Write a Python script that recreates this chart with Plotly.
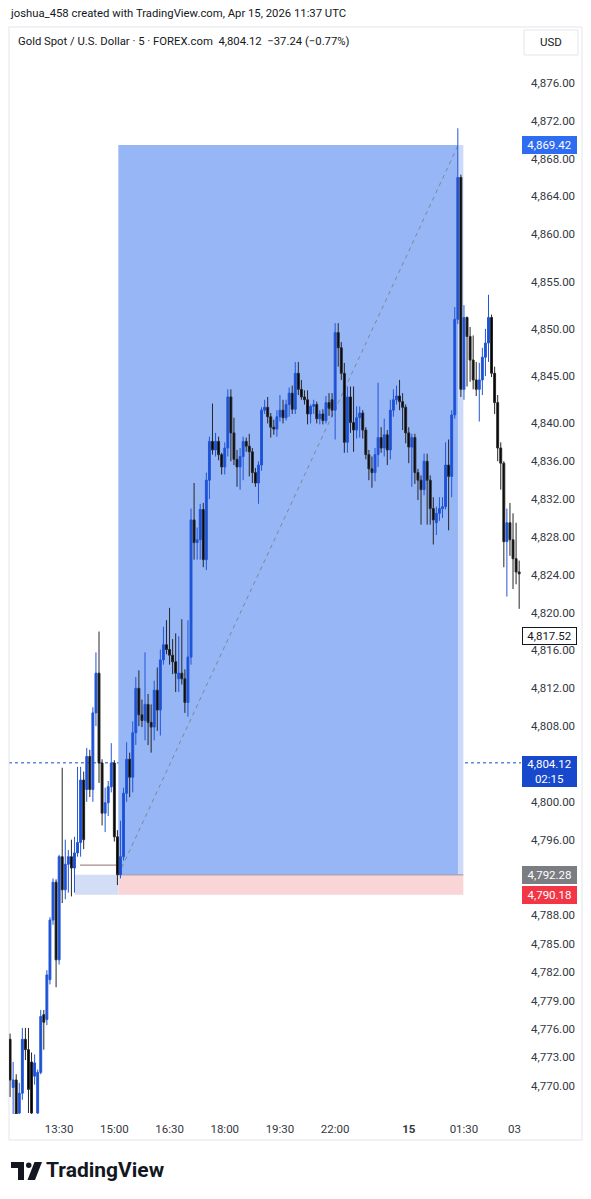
import plotly.graph_objects as go

# ---------------- data ----------------
bar_index = list(range(167))

open_ = [4774.9, 4769.8, 4770.6, 4767.1, 4769.2, 4774.9, 4773.8, 4772.5, 4771.0, 4767.1,
         4771.4, 4777.5, 4777.0, 4781.2, 4787.5, 4791.5, 4783.3, 4794.2, 4790.7, 4793.4,
         4794.2, 4793.0, 4794.6, 4795.7, 4802.3, 4801.3, 4804.8, 4801.3, 4809.4, 4813.6,
         4804.1, 4798.8, 4799.9, 4801.6, 4804.1, 4796.3, 4792.3, 4794.2, 4800.9, 4804.5,
         4802.6, 4807.3, 4812.0, 4809.2, 4808.6, 4810.3, 4808.4, 4807.9, 4811.8, 4809.7,
         4815.0, 4816.6, 4816.1, 4815.5, 4814.8, 4813.0, 4813.6, 4813.0, 4810.5, 4815.3,
         4829.8, 4827.4, 4827.7, 4830.9, 4825.6, 4834.0, 4838.1, 4837.2, 4838.1, 4836.7,
         4835.4, 4837.4, 4842.8, 4839.0, 4836.2, 4835.4, 4836.5, 4838.1, 4837.6, 4837.0,
         4834.8, 4833.7, 4835.6, 4841.4, 4841.7, 4840.7, 4839.6, 4839.4, 4840.7, 4841.4,
         4840.6, 4842.0, 4843.2, 4841.5, 4845.3, 4843.6, 4842.8, 4842.5, 4841.0, 4841.8,
         4842.0, 4840.5, 4841.0, 4840.3, 4842.2, 4842.5, 4841.4, 4849.6, 4848.0, 4845.3,
         4838.0, 4842.8, 4840.1, 4839.3, 4840.6, 4841.1, 4839.3, 4836.7, 4835.2, 4834.8,
         4836.7, 4838.5, 4837.4, 4838.8, 4837.2, 4841.4, 4842.5, 4842.9, 4842.3, 4841.7,
         4839.0, 4837.5, 4838.5, 4834.8, 4834.0, 4833.0, 4836.0, 4834.0, 4831.0, 4829.5,
         4830.5, 4831.0, 4831.2, 4835.6, 4834.4, 4840.9, 4851.0, 4866.0, 4843.6, 4851.2,
         4849.2, 4846.7, 4844.6, 4843.6, 4844.6, 4847.0, 4848.5, 4851.2, 4845.3, 4842.2,
         4837.4, 4835.8, 4827.5, 4829.5, 4827.7, 4825.7, 4824.3]

high = [4775.5, 4772.5, 4771.2, 4770.3, 4776.1, 4776.1, 4776.1, 4773.5, 4773.3, 4771.7,
        4778.0, 4778.0, 4782.2, 4787.8, 4791.9, 4791.8, 4794.4, 4803.6, 4796.0, 4794.9,
        4796.0, 4796.3, 4803.7, 4803.7, 4803.2, 4805.7, 4805.5, 4810.0, 4815.8, 4818.0,
        4804.5, 4801.5, 4802.2, 4806.2, 4804.4, 4797.0, 4798.0, 4801.5, 4806.3, 4805.2,
        4808.5, 4813.2, 4813.9, 4810.8, 4815.8, 4811.4, 4810.3, 4812.8, 4814.2, 4816.1,
        4818.5, 4819.2, 4820.5, 4817.2, 4817.8, 4817.5, 4819.3, 4814.0, 4819.2, 4831.0,
        4833.7, 4829.0, 4831.5, 4831.6, 4834.8, 4838.6, 4842.1, 4839.0, 4838.6, 4836.9,
        4838.0, 4843.6, 4843.6, 4840.6, 4837.2, 4837.4, 4838.6, 4838.5, 4838.9, 4837.4,
        4835.3, 4836.0, 4841.7, 4842.5, 4842.8, 4841.1, 4840.4, 4841.4, 4843.0, 4842.5,
        4842.5, 4843.8, 4844.0, 4846.5, 4846.5, 4844.6, 4843.5, 4843.5, 4842.0, 4842.5,
        4842.3, 4841.4, 4841.5, 4842.9, 4843.2, 4843.2, 4850.6, 4850.6, 4848.6, 4846.4,
        4843.9, 4843.9, 4843.9, 4841.8, 4841.8, 4841.4, 4839.6, 4837.2, 4836.5, 4837.4,
        4844.3, 4839.6, 4840.5, 4839.3, 4842.5, 4843.6, 4844.0, 4844.6, 4843.2, 4842.0,
        4839.6, 4838.9, 4838.9, 4835.2, 4834.5, 4836.8, 4836.8, 4834.5, 4832.2, 4831.2,
        4832.2, 4832.2, 4838.0, 4838.3, 4841.4, 4852.3, 4871.2, 4866.3, 4852.5, 4851.3,
        4850.2, 4849.3, 4846.5, 4846.4, 4848.0, 4850.0, 4853.6, 4851.5, 4846.0, 4843.0,
        4838.0, 4836.0, 4831.0, 4831.6, 4830.5, 4829.5, 4825.5]

low = [4768.8, 4766.8, 4766.6, 4766.6, 4768.5, 4772.7, 4767.1, 4766.4, 4770.1, 4766.4,
       4771.2, 4773.8, 4776.4, 4780.7, 4787.0, 4780.4, 4782.8, 4789.3, 4789.7, 4790.4,
       4790.0, 4790.4, 4794.2, 4794.2, 4795.0, 4800.0, 4800.5, 4800.0, 4808.0, 4802.0,
       4797.5, 4796.8, 4798.5, 4801.0, 4795.8, 4791.2, 4791.9, 4793.8, 4800.0, 4800.5,
       4801.0, 4806.0, 4808.0, 4807.9, 4806.5, 4806.0, 4805.2, 4806.5, 4807.5, 4807.0,
       4814.5, 4815.6, 4814.5, 4813.5, 4811.6, 4811.6, 4812.4, 4809.4, 4809.0, 4814.5,
       4825.6, 4825.6, 4825.6, 4824.8, 4824.5, 4832.0, 4836.7, 4836.5, 4836.1, 4834.6,
       4834.6, 4836.5, 4836.0, 4835.6, 4833.3, 4833.0, 4834.0, 4837.0, 4834.4, 4833.7,
       4833.3, 4831.5, 4835.0, 4841.0, 4840.0, 4838.5, 4838.8, 4838.6, 4840.2, 4840.0,
       4840.3, 4840.7, 4841.0, 4841.0, 4843.0, 4842.5, 4842.0, 4839.9, 4840.0, 4841.0,
       4840.0, 4839.9, 4839.9, 4840.0, 4840.8, 4840.7, 4838.3, 4846.0, 4844.6, 4836.9,
       4836.9, 4839.0, 4837.0, 4838.4, 4838.5, 4838.4, 4836.2, 4834.0, 4833.2, 4833.9,
       4835.4, 4836.9, 4836.5, 4835.6, 4836.2, 4840.7, 4842.0, 4841.4, 4839.3, 4837.9,
       4835.8, 4833.3, 4833.6, 4831.9, 4829.3, 4832.4, 4829.3, 4829.3, 4827.2, 4828.2,
       4829.7, 4830.0, 4830.9, 4828.7, 4832.2, 4840.5, 4850.5, 4842.8, 4842.5, 4843.9,
       4844.4, 4843.6, 4842.9, 4840.2, 4843.0, 4845.0, 4846.5, 4844.9, 4841.0, 4836.0,
       4833.0, 4824.8, 4821.7, 4826.0, 4822.5, 4823.0, 4820.4]

close = [4770.6, 4770.6, 4767.0, 4769.2, 4774.9, 4773.8, 4769.6, 4767.1, 4772.4, 4771.4,
         4777.3, 4776.7, 4781.7, 4787.5, 4791.5, 4783.3, 4794.2, 4790.7, 4793.4, 4794.2,
         4793.0, 4794.6, 4795.7, 4802.3, 4796.0, 4804.8, 4801.3, 4809.4, 4813.6, 4804.1,
         4798.8, 4799.9, 4801.6, 4804.1, 4796.3, 4792.3, 4794.2, 4800.9, 4804.5, 4802.6,
         4807.3, 4812.0, 4809.2, 4808.6, 4810.3, 4808.4, 4807.9, 4811.8, 4809.7, 4815.0,
         4816.6, 4816.1, 4815.5, 4814.8, 4813.6, 4813.6, 4813.0, 4810.5, 4815.3, 4829.8,
         4827.4, 4827.7, 4830.9, 4825.6, 4834.0, 4838.1, 4837.2, 4838.1, 4836.7, 4835.4,
         4837.4, 4842.8, 4839.0, 4836.2, 4835.4, 4836.5, 4838.1, 4837.6, 4837.0, 4834.8,
         4833.7, 4835.6, 4841.4, 4841.7, 4840.7, 4839.6, 4839.4, 4840.7, 4841.4, 4840.6,
         4842.0, 4843.2, 4841.5, 4845.3, 4843.6, 4842.8, 4842.5, 4841.0, 4841.8, 4842.0,
         4840.5, 4841.0, 4840.3, 4842.2, 4841.6, 4841.4, 4849.6, 4848.0, 4845.3, 4838.0,
         4842.8, 4840.1, 4839.3, 4840.6, 4841.1, 4839.3, 4836.7, 4835.2, 4834.8, 4836.7,
         4838.5, 4837.4, 4838.8, 4837.2, 4841.4, 4842.5, 4842.9, 4842.3, 4841.7, 4839.0,
         4837.5, 4838.5, 4834.8, 4834.0, 4833.0, 4836.0, 4834.0, 4831.0, 4829.8, 4830.5,
         4831.0, 4831.2, 4835.6, 4834.4, 4840.9, 4851.0, 4866.0, 4843.6, 4851.2, 4849.2,
         4846.7, 4844.6, 4843.6, 4844.6, 4847.0, 4848.5, 4851.2, 4845.3, 4842.2, 4837.4,
         4835.8, 4827.5, 4829.5, 4827.7, 4825.7, 4824.3, 4824.1]

time_tick_pos = [16, 34, 52, 70, 88, 106, 130, 148, 164.5]
time_tick_text = ["13:30", "15:00", "16:30", "18:00", "19:30", "22:00", "<b>15</b>", "01:30", "03"]

price_ticks = [4876, 4872, 4868, 4864, 4860, 4855, 4850, 4845, 4840, 4836, 4832, 4828,
               4824, 4820, 4816, 4812, 4808, 4800, 4796, 4788, 4785, 4782, 4779, 4776,
               4773, 4770]
price_tick_text = [f"{v:,.2f}" for v in price_ticks]

# position tool (long)
entry_price = 4792.28
stop_price = 4790.18
target_price = 4869.42
last_price = 4804.12
marker_price = 4817.52
old_line_price = 4793.3
entry_bar = 35.3
exit_bar = 146.1
end_bar = 147.8
old_zone_start = 21.2
old_line_start = 22.8
old_line_end = 34.9

# ---------------- layout helpers ----------------
# the page body has an 8px margin, so the figure is placed at (8, 8) on the page
OFF = 8
W, H = 591 - 2 * OFF, 1199 - 2 * OFF
PLOT_L, PLOT_R, PLOT_T, PLOT_B = 9, 521, 28, 1114      # page pixel coords of plot area
L_M = PLOT_L - OFF
T_M = PLOT_T - OFF
R_M = W - (PLOT_R - OFF)
B_M = H - (PLOT_B - OFF)
PW = PLOT_R - PLOT_L
PH = PLOT_B - PLOT_T


def px(x):
    return (x - PLOT_L) / PW


def py(y):
    return (PLOT_B - y) / PH


FONT = "Roboto, Arial, sans-serif"
TXT = "#131722"

fig = go.Figure()
fig.add_trace(go.Candlestick(
    x=bar_index, open=open_, high=high, low=low, close=close,
    increasing=dict(line=dict(color="#2156d8", width=1), fillcolor="#1c4fd4"),
    decreasing=dict(line=dict(color="#262626", width=1), fillcolor="#000000"),
    whiskerwidth=0, showlegend=False, hoverinfo="skip",
))

shapes = []
# target zone (dark + light part after exit)
shapes.append(dict(type="rect", xref="x", yref="y", x0=entry_bar, x1=exit_bar,
                   y0=entry_price, y1=target_price, fillcolor="#97b6f6",
                   line=dict(width=0), layer="below"))
shapes.append(dict(type="rect", xref="x", yref="y", x0=exit_bar, x1=end_bar,
                   y0=entry_price, y1=target_price, fillcolor="#ccd9f8",
                   line=dict(width=0), layer="below"))
# stop zone
shapes.append(dict(type="rect", xref="x", yref="y", x0=entry_bar, x1=end_bar,
                   y0=stop_price, y1=entry_price, fillcolor="#f9d5d8",
                   line=dict(width=0), layer="below"))
# older small zone on the left
shapes.append(dict(type="rect", xref="x", yref="y", x0=old_zone_start, x1=entry_bar,
                   y0=stop_price, y1=entry_price, fillcolor="#d3ddf5",
                   line=dict(width=0), layer="below"))
shapes.append(dict(type="line", xref="x", yref="y", x0=old_line_start, x1=old_line_end,
                   y0=old_line_price, y1=old_line_price,
                   line=dict(color="#a88a8c", width=1.3), layer="below"))
# entry line
shapes.append(dict(type="line", xref="x", yref="y", x0=entry_bar, x1=end_bar,
                   y0=entry_price, y1=entry_price,
                   line=dict(color="#8f96a8", width=1), layer="below"))
# diagonal dashed
shapes.append(dict(type="line", xref="x", yref="y", x0=entry_bar, x1=exit_bar,
                   y0=entry_price, y1=target_price,
                   line=dict(color="#7f8796", width=1, dash="4px,4px"), layer="below"))
# last price dotted line
shapes.append(dict(type="line", xref="paper", yref="y", x0=0, x1=1,
                   y0=last_price, y1=last_price,
                   line=dict(color="#1848cc", width=1, dash="dot"), layer="below"))
# outer frame
shapes.append(dict(type="rect", xref="paper", yref="paper", x0=px(9), x1=px(582),
                   y0=py(1140), y1=py(27), line=dict(color="#e3e5ea", width=1),
                   fillcolor="rgba(0,0,0,0)", layer="below"))
# USD box
shapes.append(dict(type="rect", xref="paper", yref="paper", x0=px(524), x1=px(578),
                   y0=py(55), y1=py(30), line=dict(color="#e3e5ea", width=1),
                   fillcolor="white"))
# TradingView logo glyph
shapes.append(dict(type="path", xref="paper", yref="paper",
                   path=(f"M {px(11)} {py(1162)} L {px(24)} {py(1162)} L {px(24)} {py(1180)} "
                         f"L {px(18)} {py(1180)} L {px(18)} {py(1168)} L {px(11)} {py(1168)} Z"),
                   fillcolor="#131722", line=dict(width=0)))
shapes.append(dict(type="circle", xref="paper", yref="paper", x0=px(26), x1=px(31.5),
                   y0=py(1168), y1=py(1162.5), fillcolor="#131722", line=dict(width=0)))
shapes.append(dict(type="path", xref="paper", yref="paper",
                   path=(f"M {px(34.5)} {py(1162)} L {px(42)} {py(1162)} L {px(35)} {py(1180)} "
                         f"L {px(27.5)} {py(1180)} Z"),
                   fillcolor="#131722", line=dict(width=0)))

annotations = []
annotations.append(dict(xref="paper", yref="paper", x=px(8), y=py(13), xanchor="left",
                        yanchor="middle", showarrow=False,
                        text="joshua_458 created with TradingView.com, Apr 15, 2026 11:37 UTC",
                        font=dict(family=FONT, size=11.3, color=TXT)))
annotations.append(dict(xref="paper", yref="paper", x=px(16), y=py(41), xanchor="left",
                        yanchor="middle", showarrow=False,
                        text="Gold Spot / U.S. Dollar · 5 · FOREX.com  4,804.12  −37.24 (−0.77%)",
                        font=dict(family=FONT, size=11.3, color=TXT)))
annotations.append(dict(xref="paper", yref="paper", x=px(551), y=py(42.5), xanchor="center",
                        yanchor="middle", showarrow=False, text="USD",
                        font=dict(family=FONT, size=11.5, color=TXT)))
annotations.append(dict(xref="paper", yref="paper", x=px(44), y=py(1170), xanchor="left",
                        yanchor="middle", showarrow=False, text="<b>TradingView</b>",
                        font=dict(family=FONT, size=21, color=TXT)))


def price_label(price, text, bg, fg, border=None, h=14):
    return dict(xref="paper", yref="y", x=1, xshift=1, y=price, xanchor="left",
                yanchor="middle", showarrow=False, text=text, width=51, height=h,
                align="center", bgcolor=bg, bordercolor=border or bg, borderwidth=1,
                borderpad=1, font=dict(family=FONT, size=11.5, color=fg))


annotations.append(price_label(target_price, f"{target_price:,.2f}", "#2e6cf2", "white"))
annotations.append(price_label(marker_price, f"{marker_price:,.2f}", "white", "#131722",
                               border="#131722"))
annotations.append(price_label(last_price - 0.95, f"{last_price:,.2f}<br>02:15", "#1848cc",
                               "white", h=27))
annotations.append(price_label(entry_price, f"{entry_price:,.2f}", "#7b7d83", "white"))
annotations.append(price_label(stop_price, f"{stop_price:,.2f}", "#f23645", "white"))

fig.update_layout(
    width=W, height=H,
    margin=dict(l=L_M, r=R_M, t=T_M, b=B_M),
    paper_bgcolor="white", plot_bgcolor="white",
    shapes=shapes, annotations=annotations,
    boxgap=0.12,
    font=dict(family=FONT, color=TXT),
    xaxis=dict(range=[-0.35, 166.6], showgrid=False, zeroline=False, rangeslider=dict(visible=False),
               tickmode="array", tickvals=time_tick_pos, ticktext=time_tick_text,
               ticks="", ticklabelstandoff=6, showline=False,
               tickfont=dict(family=FONT, size=11.5, color="#333842")),
    yaxis=dict(range=[4767.0, 4881.8], side="right", showgrid=False, zeroline=False,
               tickmode="array", tickvals=price_ticks, ticktext=price_tick_text,
               ticks="", ticklabelstandoff=9, showline=False,
               tickfont=dict(family=FONT, size=11.5, color="#333842")),
)

fig.write_html("out.html")
